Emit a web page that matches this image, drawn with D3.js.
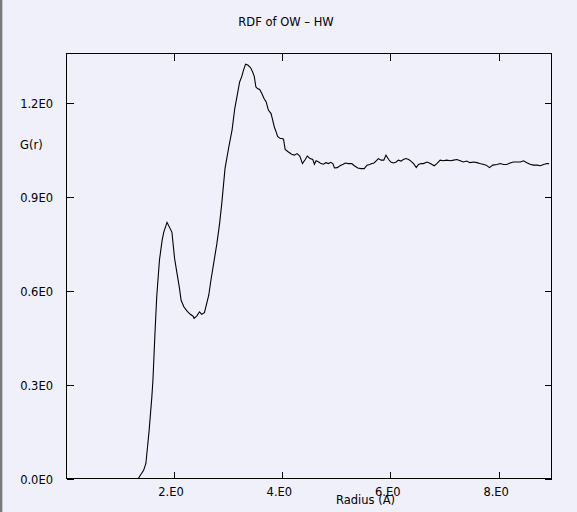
<!DOCTYPE html>
<html>
<head>
<meta charset="utf-8">
<script src="https://cdn.jsdelivr.net/npm/d3@7"></script>
<style>
  html, body { margin: 0; padding: 0; background: #f0f0fa; }
  svg { display: block; }
  text { font-family: "DejaVu Sans", sans-serif; font-size: 11.5px; fill: #000; }
</style>
</head>
<body>
<script>
// ---- data ----
const title = "RDF of OW \u2013 HW";
const xLabel = "Radius (A)";
const yLabel = "G(r)";
const xTicks = [2, 4, 6, 8];
const xTickLabels = ["2.E0", "4.E0", "6.E0", "8.E0"];
const yTicks = [0, 0.3, 0.6, 0.9, 1.2];
const yTickLabels = ["0.0E0", "0.3E0", "0.6E0", "0.9E0", "1.2E0"];
const xDomain = [0.025, 8.975];
const yDomain = [0, 1.359];

const radius = [
  0.03, 0.50, 1.00, 1.35, 1.45, 1.49, 1.55, 1.60, 1.62, 1.66,
  1.69, 1.74, 1.79, 1.82, 1.88, 1.97, 2.02, 2.06, 2.11, 2.14,
  2.19, 2.25, 2.31, 2.36, 2.38, 2.43, 2.48, 2.52, 2.57, 2.60,
  2.65, 2.69, 2.74, 2.80, 2.85, 2.89, 2.95, 3.02, 3.08, 3.13,
  3.17, 3.22, 3.26, 3.29, 3.33, 3.37, 3.42, 3.46, 3.49, 3.52,
  3.55, 3.59, 3.63, 3.67, 3.71, 3.75, 3.80, 3.83, 3.86, 3.90,
  3.92, 3.97, 4.00, 4.03, 4.06, 4.12, 4.18, 4.23, 4.28, 4.33,
  4.38, 4.43, 4.47, 4.52, 4.57, 4.60, 4.63, 4.68, 4.72, 4.77,
  4.81, 4.86, 4.90, 4.94, 4.97, 5.02, 5.08, 5.13, 5.17, 5.23,
  5.29, 5.33, 5.40, 5.46, 5.52, 5.57, 5.62, 5.66, 5.70, 5.74,
  5.78, 5.83, 5.88, 5.92, 5.97, 6.01, 6.06, 6.11, 6.15, 6.20,
  6.24, 6.29, 6.34, 6.38, 6.43, 6.48, 6.52, 6.57, 6.61, 6.68,
  6.74, 6.81, 6.86, 6.92, 6.98, 7.04, 7.11, 7.17, 7.23, 7.29,
  7.35, 7.41, 7.47, 7.54, 7.60, 7.65, 7.71, 7.77, 7.83, 7.89,
  7.97, 8.03, 8.09, 8.15, 8.21, 8.27, 8.34, 8.40, 8.46, 8.52,
  8.58, 8.64, 8.71, 8.77, 8.83, 8.89, 8.93
];
const gr = [
  0.000, 0.000, 0.000, 0.000, 0.027, 0.048, 0.154, 0.261, 0.314, 0.474,
  0.581, 0.698, 0.762, 0.788, 0.819, 0.788, 0.703, 0.661, 0.608, 0.570,
  0.549, 0.535, 0.525, 0.519, 0.512, 0.520, 0.533, 0.525, 0.530, 0.551,
  0.586, 0.634, 0.687, 0.751, 0.815, 0.879, 0.991, 1.060, 1.114, 1.183,
  1.220, 1.268, 1.286, 1.305, 1.325, 1.322, 1.314, 1.300, 1.286, 1.252,
  1.247, 1.244, 1.231, 1.215, 1.204, 1.178, 1.167, 1.146, 1.124, 1.105,
  1.094, 1.087, 1.087, 1.085, 1.052, 1.044, 1.037, 1.034, 1.039, 1.031,
  1.007, 1.020, 1.031, 1.023, 1.020, 1.005, 1.016, 1.012, 1.007, 1.005,
  1.010, 1.007, 1.011, 1.007, 0.993, 0.994, 1.001, 1.005, 1.009, 1.007,
  1.007, 1.001, 0.993, 0.991, 0.991, 1.002, 1.004, 1.007, 1.009, 1.016,
  1.023, 1.018, 1.018, 1.034, 1.020, 1.012, 1.009, 1.012, 1.018, 1.015,
  1.020, 1.023, 1.020, 1.015, 1.007, 0.994, 1.004, 1.007, 1.007, 1.012,
  1.007, 1.000, 1.007, 1.018, 1.016, 1.018, 1.016, 1.018, 1.020, 1.016,
  1.012, 1.015, 1.010, 1.012, 1.010, 1.007, 1.005, 1.002, 0.994, 1.002,
  1.004, 1.007, 1.004, 1.004, 1.009, 1.012, 1.012, 1.012, 1.016, 1.010,
  1.005, 1.002, 1.002, 1.000, 1.004, 1.007, 1.007
];

// ---- layout ----
const W = 577, H = 512;
const plot = { left: 66.5, right: 551.5, top: 53.5, bottom: 478.5 };

const svg = d3.select("body").append("svg").attr("width", W).attr("height", H);
svg.append("rect").attr("width", W).attr("height", H).attr("fill", "#f0f0fa");
// window edge on the left
svg.append("rect").attr("x", 0).attr("y", 0).attr("width", 2).attr("height", H).attr("fill", "#7a7a7a");
svg.append("rect").attr("x", 2).attr("y", 0).attr("width", 1).attr("height", H).attr("fill", "#c8c8d0");

const x = d3.scaleLinear().domain(xDomain).range([plot.left, plot.right]);
const y = d3.scaleLinear().domain(yDomain).range([plot.bottom, plot.top]);

const fmtX = d => xTickLabels[xTicks.indexOf(d)];
const fmtY = d => yTickLabels[yTicks.indexOf(d)];

// bottom axis
const gb = svg.append("g").attr("transform", `translate(0,${plot.bottom})`)
  .call(d3.axisBottom(x).tickValues(xTicks).tickFormat(fmtX).tickSize(-7).tickSizeOuter(0));
gb.selectAll("text").attr("y", 17).attr("dy", 0).attr("dx", -3)
  .style("font-family", '"DejaVu Sans", sans-serif').style("font-size", "11.5px");
// top axis
svg.append("g").attr("transform", `translate(0,${plot.top})`)
  .call(d3.axisTop(x).tickValues(xTicks).tickFormat("").tickSize(-7).tickSizeOuter(0));
// left axis
const gl = svg.append("g").attr("transform", `translate(${plot.left},0)`)
  .call(d3.axisLeft(y).tickValues(yTicks).tickFormat(fmtY).tickSize(-7).tickSizeOuter(0).tickPadding(13.5));
gl.selectAll("text").attr("dy", 0).attr("y", 4.5)
  .style("font-family", '"DejaVu Sans", sans-serif').style("font-size", "11.5px");
// right axis
svg.append("g").attr("transform", `translate(${plot.right},0)`)
  .call(d3.axisRight(y).tickValues(yTicks).tickFormat("").tickSize(-7).tickSizeOuter(0));

svg.selectAll(".domain").remove();
svg.selectAll(".tick line").attr("stroke", "#000").attr("shape-rendering", "crispEdges");

// frame
svg.append("rect")
  .attr("x", plot.left).attr("y", plot.top)
  .attr("width", plot.right - plot.left).attr("height", plot.bottom - plot.top)
  .attr("fill", "none").attr("stroke", "#000").attr("stroke-width", 1)
  .attr("shape-rendering", "crispEdges");

// curve
const pts = radius.map((r, i) => [r, gr[i]]);
svg.append("path")
  .datum(pts)
  .attr("fill", "none")
  .attr("stroke", "#000")
  .attr("stroke-width", 1.1)
  .attr("d", d3.line().x(d => x(d[0])).y(d => y(d[1])));

// titles
svg.append("text").attr("x", 286).attr("y", 26).attr("text-anchor", "middle").text(title);
svg.append("text").attr("x", 20).attr("y", 149).text(yLabel);
svg.append("text").attr("x", 336).attr("y", 503.5).text(xLabel);
</script>
</body>
</html>
